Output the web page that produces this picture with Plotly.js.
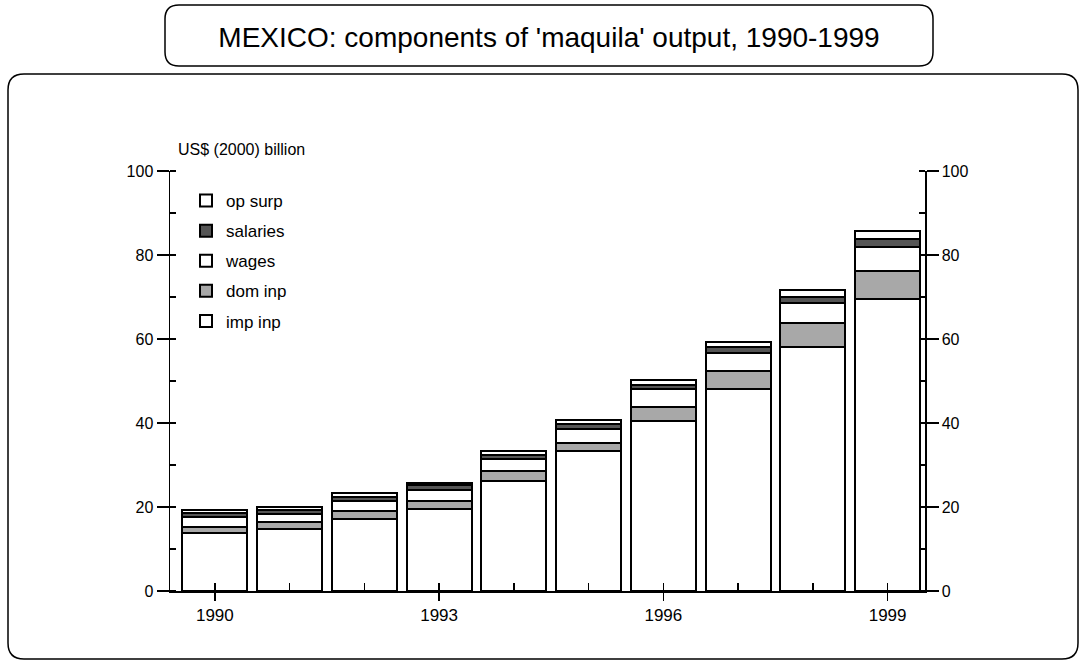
<!DOCTYPE html>
<html>
<head>
<meta charset="utf-8">
<script src="https://cdn.plot.ly/plotly-3.0.1.min.js"></script>
<style>html,body{margin:0;padding:0;background:#fff;}#chart{width:1088px;height:664px;}</style>
</head>
<body>
<div id="chart"></div>
<script>
// ---- data ----
const years = [1990, 1991, 1992, 1993, 1994, 1995, 1996, 1997, 1998, 1999];
const impInp   = [13.8, 14.8, 17.1, 19.5, 26.1, 33.3, 40.4, 48.0, 58.0, 69.5];
const domInp   = [1.4, 1.7, 1.9, 1.9, 2.4, 2.0, 3.3, 4.3, 5.7, 6.7];
const wages    = [2.4, 1.8, 2.4, 2.6, 2.9, 3.2, 4.3, 4.3, 4.8, 5.6];
const salaries = [1.0, 1.1, 1.1, 1.3, 1.1, 1.3, 1.1, 1.6, 1.6, 2.0];
const opSurp   = [0.6, 0.6, 0.8, 0.5, 0.8, 0.9, 1.1, 1.1, 1.6, 1.9];
const seriesNames = ['imp inp', 'dom inp', 'wages', 'salaries', 'op surp'];
const majorYears = [1990, 1993, 1996, 1999];
const majorYearLabels = ['1990', '1993', '1996', '1999'];
const titleText = "MEXICO: components of 'maquila' output, 1990-1999";
const unitText = 'US$ (2000) billion';

// ---- layout geometry (pixels) ----
const W = 1088, H = 664;
const ML = 170, MR = 163, MT = 171, MB = 73;
const PW = W - ML - MR, PH = H - MT - MB;
const X = px => (px - ML) / PW;
const Y = py => (H - MB - py) / PH;
const FONT = 'Arial, "Liberation Sans", sans-serif';

function roundRect(x0, y0, x1, y1, r) {
  const a = X(x0), b = X(x1), c = Y(y0), d = Y(y1);
  const rx = r / PW, ry = r / PH;
  return `M${a + rx},${c} L${b - rx},${c} Q${b},${c} ${b},${c - ry} L${b},${d + ry} Q${b},${d} ${b - rx},${d} L${a + rx},${d} Q${a},${d} ${a},${d + ry} L${a},${c - ry} Q${a},${c} ${a + rx},${c} Z`;
}

const fills = ['#ffffff', '#a8a8a8', '#ffffff', '#555555', '#ffffff'];
const vals = [impInp, domInp, wages, salaries, opSurp];
const traces = vals.map((v, i) => ({
  type: 'bar', x: years, y: v, name: seriesNames[i], legendgroup: 'g' + i,
  legendrank: 10 - i,
  marker: { color: fills[i], line: { color: '#000', width: 2 } },
  hoverinfo: 'skip'
}));
// empty traces to activate overlay axes (inner parts of crossing ticks)
traces.push({ type: 'scatter', x: [], y: [], xaxis: 'x', yaxis: 'y2', showlegend: false });
traces.push({ type: 'scatter', x: [], y: [], xaxis: 'x', yaxis: 'y3', showlegend: false });
traces.push({ type: 'scatter', x: [], y: [], xaxis: 'x', yaxis: 'y4', showlegend: false });
traces.push({ type: 'scatter', x: [], y: [], xaxis: 'x2', yaxis: 'y', showlegend: false });

const yBase = {
  range: [0, 100], dtick: 20, tick0: 0, fixedrange: true, showgrid: false, zeroline: false,
  tickfont: { family: FONT, size: 16, color: '#000' }, tickcolor: '#000', tickwidth: 1.5
};
const xr = [1989.4, 1999.5];

const layout = {
  width: W, height: H,
  margin: { l: ML, r: MR, t: MT, b: MB, pad: 0 },
  paper_bgcolor: '#fff', plot_bgcolor: '#fff',
  barmode: 'stack', bargap: 0.13,
  font: { family: FONT, size: 16, color: '#000' },
  title: { text: titleText, x: 549 / W, xref: 'container', xanchor: 'center',
           y: 1 - 37 / H, yref: 'container', yanchor: 'middle',
           font: { family: FONT, size: 28, color: '#000' } },
  showlegend: true,
  legend: { x: X(186), y: Y(183), xanchor: 'left', yanchor: 'top', bgcolor: 'rgba(0,0,0,0)',
            traceorder: 'grouped', tracegroupgap: 5,
            font: { family: FONT, size: 17, color: '#000' } },
  xaxis: {
    range: xr, tickmode: 'array', tickvals: majorYears, ticktext: majorYearLabels,
    ticks: 'outside', ticklen: 8, tickwidth: 1.5, tickcolor: '#000',
    showline: true, linecolor: '#000', linewidth: 1.5, showgrid: false, zeroline: false,
    tickfont: { family: FONT, size: 17, color: '#000' }, fixedrange: true,
    minor: { dtick: 1, tick0: 1990, ticks: 'inside', ticklen: 8, tickwidth: 1.5, tickcolor: '#000', showgrid: false }
  },
  xaxis2: {
    range: xr, overlaying: 'x', side: 'bottom', tickmode: 'array', tickvals: majorYears,
    ticks: 'inside', ticklen: 8, tickwidth: 1.5, tickcolor: '#000', showticklabels: false,
    showline: false, showgrid: false, zeroline: false, fixedrange: true
  },
  yaxis: Object.assign({}, yBase, {
    side: 'left', ticks: 'outside', ticklen: 12, showline: true, linecolor: '#000', linewidth: 1.5,
    minor: { dtick: 10, tick0: 0, ticks: 'inside', ticklen: 6, tickwidth: 1.5, tickcolor: '#000', showgrid: false }
  }),
  yaxis2: Object.assign({}, yBase, {
    overlaying: 'y', side: 'right', ticks: 'outside', ticklen: 12, showline: true, linecolor: '#000', linewidth: 1.5,
    minor: { dtick: 10, tick0: 0, ticks: 'inside', ticklen: 6, tickwidth: 1.5, tickcolor: '#000', showgrid: false }
  }),
  yaxis3: Object.assign({}, yBase, { overlaying: 'y', side: 'left', ticks: 'inside', ticklen: 6, showticklabels: false, showline: false }),
  yaxis4: Object.assign({}, yBase, { overlaying: 'y', side: 'right', ticks: 'inside', ticklen: 6, showticklabels: false, showline: false }),
  annotations: [
    { text: unitText, xref: 'paper', yref: 'paper', x: X(176), y: Y(150), xanchor: 'left', yanchor: 'middle',
      showarrow: false, font: { family: FONT, size: 16, color: '#000' } }
  ],
  shapes: [
    { type: 'path', xref: 'paper', yref: 'paper', path: roundRect(165, 5, 933, 66, 14), line: { color: '#000', width: 1.5 }, layer: 'below' },
    { type: 'path', xref: 'paper', yref: 'paper', path: roundRect(8, 74, 1078, 659, 16), line: { color: '#000', width: 1.5 }, layer: 'below' }
  ]
};

Plotly.newPlot('chart', traces, layout, { staticPlot: true, displayModeBar: false });
</script>
</body>
</html>
